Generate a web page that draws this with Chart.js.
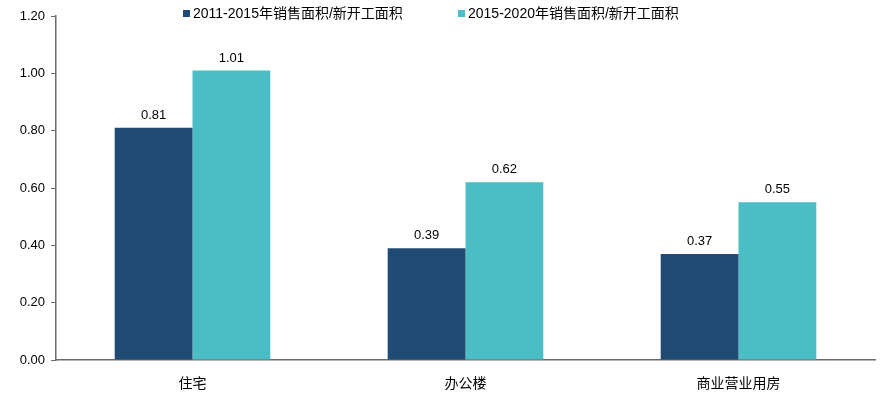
<!DOCTYPE html>
<html>
<head>
<meta charset="utf-8">
<script src="https://cdn.jsdelivr.net/npm/chart.js@4/dist/chart.umd.min.js"></script>
<style>
  body { margin: 0; background: #fff; }
</style>
</head>
<body>
<canvas id="grafica" width="881" height="393"></canvas>
<script>
var categorias = ["住宅", "办公楼", "商业营业用房"];
var serie1 = [0.81, 0.39, 0.37];
var serie2 = [1.01, 0.62, 0.55];
var nombres = ["2011-2015年销售面积/新开工面积", "2015-2020年销售面积/新开工面积"];
var colores = ["#1F4B75", "#4BBDC5"];
var fuente = "'Liberation Sans', Arial, 'Noto Sans CJK SC', sans-serif";

// etiquetas encima de las barras + leyenda propia
var etiquetas = {
  id: 'etiquetas',
  afterDatasetsDraw: function(chart) {
    var ctx = chart.ctx;
    ctx.save();
    ctx.font = "13px " + fuente;
    ctx.fillStyle = "#000";
    ctx.textAlign = "center";
    ctx.textBaseline = "bottom";
    chart.data.datasets.forEach(function(ds, i) {
      chart.getDatasetMeta(i).data.forEach(function(bar, j) {
        ctx.fillText(ds.data[j].toFixed(2), bar.x, bar.y - 6);
      });
    });
    // leyenda
    var xs = [183, 458];
    ctx.font = "14px " + fuente;
    ctx.textAlign = "left";
    ctx.textBaseline = "middle";
    nombres.forEach(function(n, i) {
      ctx.fillStyle = colores[i];
      ctx.fillRect(xs[i], 10, 7, 7);
      ctx.fillStyle = "#000";
      ctx.fillText(n, xs[i] + 10, 14);
    });
    ctx.restore();
  }
};

var grafica = new Chart(document.getElementById('grafica').getContext('2d'), {
  type: 'bar',
  data: {
    labels: categorias,
    datasets: [{
      label: nombres[0],
      backgroundColor: colores[0],
      data: serie1,
      categoryPercentage: 0.57,
      barPercentage: 1
    }, {
      label: nombres[1],
      backgroundColor: colores[1],
      data: serie2,
      categoryPercentage: 0.57,
      barPercentage: 1
    }]
  },
  options: {
    responsive: false,
    animation: false,
    layout: { padding: { top: 16, right: 6, left: 0, bottom: 0 } },
    plugins: {
      legend: { display: false },
      tooltip: { enabled: false }
    },
    scales: {
      x: {
        grid: { display: false },
        border: { display: true, color: '#6b6b6b', width: 1.5 },
        ticks: { color: '#000', font: { size: 14, family: fuente }, padding: 8 },
        afterFit: function(s) { s.height = 33; }
      },
      y: {
        min: 0,
        max: 1.2,
        ticks: {
          stepSize: 0.2,
          color: '#000',
          font: { size: 13, family: fuente },
          padding: 6,
          callback: function(v) { return v.toFixed(2); }
        },
        grid: { drawOnChartArea: false, tickLength: 5, color: '#6b6b6b' },
        border: { display: true, color: '#6b6b6b', width: 1.5 },
        afterFit: function(s) { s.width = 56; }
      }
    }
  },
  plugins: [etiquetas]
});
</script>
</body>
</html>
